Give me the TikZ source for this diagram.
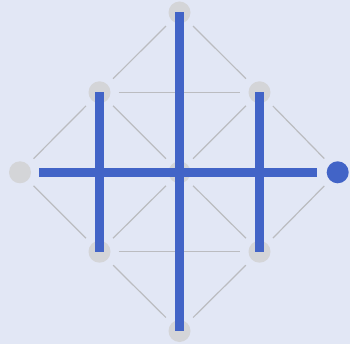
\documentclass[tikz,border=0pt]{standalone}
\definecolor{bg}{HTML}{E2E7F5}
\definecolor{nodegray}{HTML}{D4D5D8}
\definecolor{edgegray}{HTML}{BBBCC0}
\definecolor{bar}{HTML}{4264C7}
\begin{document}
\begin{tikzpicture}[x=1pt,y=-1pt,
  dot/.style={circle,fill=nodegray,draw=none,minimum size=22pt,inner sep=0pt},
  bluedot/.style={dot,fill=bar},
  edge/.style={draw=edgegray,line width=1.2pt,shorten >=8pt,shorten <=8pt},
  barline/.style={draw=bar,line width=9pt,line cap=butt}]
\fill[bg] (0,0) rectangle (350,344);
\useasboundingbox (0,0) rectangle (350,344);
\node[dot] (t) at (179.5,12.5) {};
\node[dot] (ul) at (99.5,92.3) {};
\node[dot] (ur) at (259.5,92.3) {};
\node[dot] (l) at (20,172.3) {};
\node[dot] (c) at (179.5,172.3) {};
\node[bluedot] (r) at (337.7,172.3) {};
\node[dot] (ll) at (99.5,251.7) {};
\node[dot] (lr) at (259.5,251.7) {};
\node[dot] (b) at (179.5,331) {};
\path[edge] (t) -- (ul);
\path[edge] (t) -- (ur);
\path[edge] (ul) -- (ur);
\path[edge] (ul) -- (l);
\path[edge] (ul) -- (c);
\path[edge] (ur) -- (c);
\path[edge] (ur) -- (r);
\path[edge] (l) -- (ll);
\path[edge] (c) -- (ll);
\path[edge] (c) -- (lr);
\path[edge] (r) -- (lr);
\path[edge] (ll) -- (lr);
\path[edge] (ll) -- (b);
\path[edge] (lr) -- (b);
\path[barline] (t.center) -- (b.center);
\path[barline] (ul.center) -- (ll.center);
\path[barline] (ur.center) -- (lr.center);
\path[barline,shorten <=19pt,shorten >=20.5pt] (l.center) -- (r.center);
\end{tikzpicture}
\end{document}
